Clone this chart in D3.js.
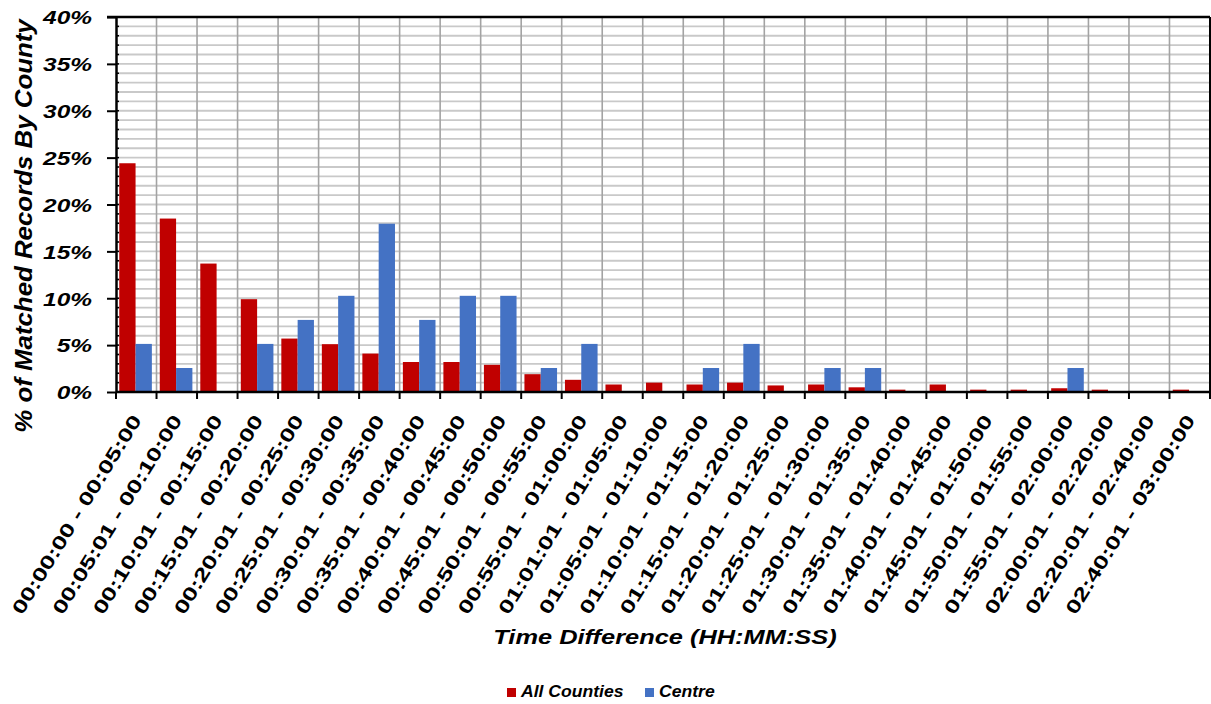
<!DOCTYPE html>
<html>
<head>
<meta charset="utf-8">
<script src="https://cdn.jsdelivr.net/npm/d3@7"></script>
<style>
  html, body { margin: 0; padding: 0; background: #fff; }
  svg { display: block; }
  text { font-family: "Liberation Sans", Arial, sans-serif; fill: #000; }
</style>
</head>
<body>
<svg id="chart" width="1211" height="704"></svg>
<script>
const categories = [
  "00:00:00 - 00:05:00", "00:05:01 - 00:10:00", "00:10:01 - 00:15:00",
  "00:15:01 - 00:20:00", "00:20:01 - 00:25:00", "00:25:01 - 00:30:00",
  "00:30:01 - 00:35:00", "00:35:01 - 00:40:00", "00:40:01 - 00:45:00",
  "00:45:01 - 00:50:00", "00:50:01 - 00:55:00", "00:55:01 - 01:00:00",
  "01:01:01 - 01:05:00", "01:05:01 - 01:10:00", "01:10:01 - 01:15:00",
  "01:15:01 - 01:20:00", "01:20:01 - 01:25:00", "01:25:01 - 01:30:00",
  "01:30:01 - 01:35:00", "01:35:01 - 01:40:00", "01:40:01 - 01:45:00",
  "01:45:01 - 01:50:00", "01:50:01 - 01:55:00", "01:55:01 - 02:00:00",
  "02:00:01 - 02:20:00", "02:20:01 - 02:40:00", "02:40:01 - 03:00:00"
];
const seriesNames = ["All Counties", "Centre"];
const allCounties = [24.4, 18.5, 13.7, 9.9, 5.7, 5.1, 4.1, 3.2, 3.2, 2.9, 1.9, 1.3, 0.8, 1.0, 0.8, 1.0, 0.7, 0.8, 0.5, 0.25, 0.8, 0.25, 0.25, 0.4, 0.25, 0, 0.25];
const centre = [5.13, 2.56, 0, 5.13, 7.69, 10.26, 17.95, 7.69, 10.26, 10.26, 2.56, 5.13, 0, 0, 2.56, 5.13, 0, 2.56, 2.56, 0, 0, 0, 0, 2.56, 0, 0, 0];
const yTicks = [0, 5, 10, 15, 20, 25, 30, 35, 40];
const yMinorTicks = d3.range(0, 41, 1);
const colors = ["#c00000", "#4472c4"];

(function () {
const svg = d3.select("#chart");
const pL = 116, pR = 1210, pT = 17, pB = 392;

const x0 = d3.scaleBand().domain(categories).range([pL, pR]).padding(0);
const bw = x0.bandwidth();
const groupW = bw * 0.805;
const groupOff = (bw - groupW) / 2 - 0.7;
const x1 = d3.scaleBand().domain(seriesNames).range([groupOff, groupOff + groupW]).padding(0);
const y = d3.scaleLinear().domain([0, 40]).range([pB, pT]);

// horizontal minor gridlines
svg.append("g").selectAll("line").data(yMinorTicks.slice(1, -1)).join("line")
  .attr("x1", pL).attr("x2", pR)
  .attr("y1", d => y(d)).attr("y2", d => y(d))
  .attr("stroke", "#c9c9c9").attr("stroke-width", 1.8);

// vertical gridlines at category boundaries
svg.append("g").selectAll("line").data(categories.slice(1)).join("line")
  .attr("x1", d => x0(d)).attr("x2", d => x0(d))
  .attr("y1", pT).attr("y2", pB)
  .attr("stroke", "#a3a3a3").attr("stroke-width", 1.6);

// bars
const data = categories.map((c, i) => ({ cat: c, vals: [allCounties[i], centre[i]] }));
const groups = svg.append("g").selectAll("g").data(data).join("g")
  .attr("transform", d => `translate(${x0(d.cat)},0)`);
groups.selectAll("rect").data(d => d.vals.map((v, k) => ({ v, k })).filter(e => e.v > 0)).join("rect")
  .attr("x", e => x1(seriesNames[e.k]))
  .attr("width", x1.bandwidth())
  .attr("y", e => y(e.v))
  .attr("height", e => y(0) - y(e.v))
  .attr("fill", e => colors[e.k]);

// plot border top / right
svg.append("line").attr("x1", pL - 9).attr("x2", pR).attr("y1", pT).attr("y2", pT)
  .attr("stroke", "#000").attr("stroke-width", 2.5);
svg.append("line").attr("x1", pR).attr("x2", pR).attr("y1", pT).attr("y2", pB)
  .attr("stroke", "#000").attr("stroke-width", 2);

// minor y ticks (inside)
svg.append("g").selectAll("line").data(yMinorTicks).join("line")
  .attr("x1", pL).attr("x2", pL + 3)
  .attr("y1", d => y(d)).attr("y2", d => y(d))
  .attr("stroke", "#000").attr("stroke-width", 1.5);

// y axis
const sx = 1.36;
const yAxis = svg.append("g").attr("transform", `translate(${pL},0)`)
  .call(d3.axisLeft(y).tickValues(yTicks).tickFormat(d => d + "%").tickSize(9).tickSizeOuter(0));
yAxis.select(".domain").attr("stroke", "#000").attr("stroke-width", 2.5);
yAxis.selectAll(".tick line").attr("stroke", "#000").attr("stroke-width", 2);
yAxis.selectAll(".tick text")
  .attr("x", -24 / sx).attr("dy", "0.38em")
  .attr("transform", `scale(${sx},1)`)
  .style("font-family", "'Liberation Sans', Arial, sans-serif")
  .style("font-size", "18px").style("font-weight", "bold").style("font-style", "italic")
  .attr("fill", "#000");

// x axis
const boundaries = categories.map(c => x0(c)).concat([pR]);
svg.append("g").selectAll("line").data(boundaries).join("line")
  .attr("x1", d => d).attr("x2", d => d)
  .attr("y1", pB).attr("y2", pB + 7)
  .attr("stroke", "#000").attr("stroke-width", 2);
svg.append("line").attr("x1", pL).attr("x2", pR).attr("y1", pB).attr("y2", pB)
  .attr("stroke", "#000").attr("stroke-width", 2.5);

// x tick labels
svg.append("g").selectAll("text").data(categories).join("text")
  .attr("transform", d => `translate(${x0(d) + bw / 2 + 6},420) rotate(-58.5) scale(1.36,1)`)
  .attr("text-anchor", "end")
  .style("font-size", "19px").style("font-weight", "bold")
  .text(d => d);

// y axis title
svg.append("text")
  .attr("transform", "translate(32,226) rotate(-90) scale(1.10,1)")
  .attr("text-anchor", "middle")
  .style("font-size", "23.5px").style("font-weight", "bold").style("font-style", "italic")
  .text("% of Matched Records By County");

// x axis title
svg.append("text")
  .attr("transform", "translate(665,644) scale(1.21,1)")
  .attr("text-anchor", "middle")
  .style("font-size", "21px").style("font-weight", "bold").style("font-style", "italic")
  .text("Time Difference (HH:MM:SS)");

// legend
const legendX = [507, 645];
const leg = svg.append("g").selectAll("g").data(seriesNames).join("g")
  .attr("transform", (d, i) => `translate(${legendX[i]},688)`);
leg.append("rect").attr("width", 9).attr("height", 9).attr("fill", (d, i) => colors[i]);
leg.append("text")
  .attr("transform", "translate(14,9) scale(1.1,1)")
  .style("font-size", "16px").style("font-weight", "bold").style("font-style", "italic")
  .text(d => d);
})();
</script>
</body>
</html>
